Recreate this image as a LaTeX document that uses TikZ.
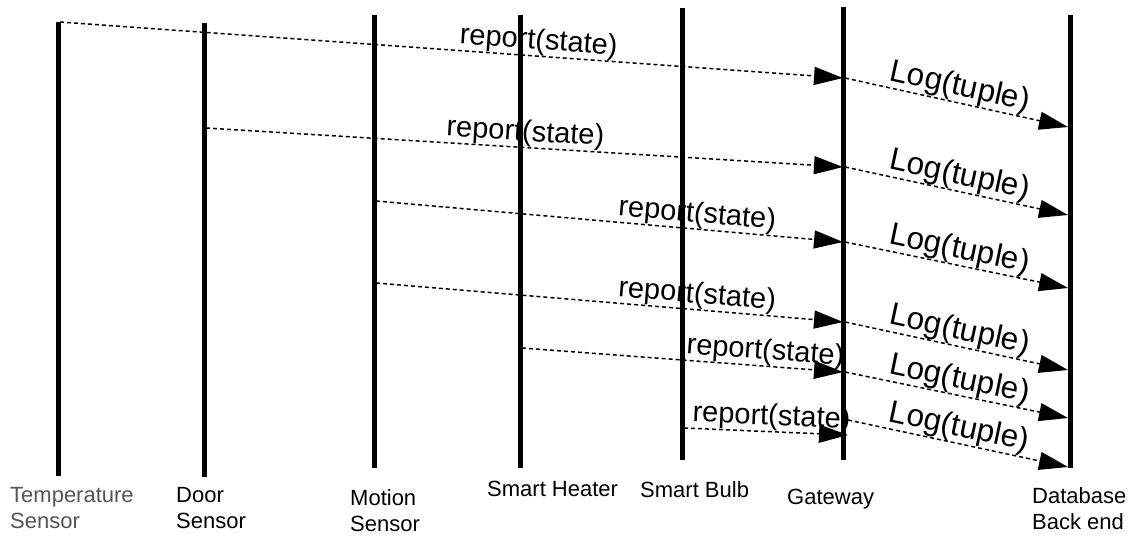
\documentclass[tikz,border=0pt]{standalone}
\usepackage{fontspec}
\setmainfont{Liberation Sans}
\usetikzlibrary{arrows.meta}
\definecolor{labelgray}{RGB}{85,85,85}
\begin{document}
\begin{tikzpicture}[x=1pt,y=-1pt,
  lifeline/.style={line width=5pt},
  msg/.style={line width=1.5pt, dash pattern=on 4pt off 3pt, -{Triangle[length=29pt,width=18pt]}},
  rlabel/.style={font=\fontsize{29}{35}\selectfont, sloped, above, inner sep=0pt},
  llabel/.style={font=\fontsize{31.5}{37}\selectfont, sloped, above, inner sep=0pt},
  actor/.style={font=\fontsize{22}{26}\selectfont, align=left, anchor=north west, inner sep=0pt}
]
\useasboundingbox (0,0) rectangle (1140,537);
% lifelines
\coordinate (tempT) at (58,22);   \coordinate (tempB) at (58,476);
\coordinate (doorT) at (204,23);  \coordinate (doorB) at (204,477);
\coordinate (motT) at (374,15);   \coordinate (motB) at (374,468);
\coordinate (heatT) at (520,15);  \coordinate (heatB) at (520,468);
\coordinate (bulbT) at (682,8);   \coordinate (bulbB) at (682,460);
\coordinate (gwT) at (843,7);     \coordinate (gwB) at (843,460);
\coordinate (dbT) at (1070,15);   \coordinate (dbB) at (1070,468);
\foreach \l in {temp,door,mot,heat,bulb,gw,db}
  \draw[lifeline] (\l T) -- (\l B);
% message end points
\coordinate (m1a) at (60,22);   \coordinate (m1b) at (843,78);
\coordinate (m2a) at (206,128); \coordinate (m2b) at (843,167);
\coordinate (m3a) at (376,201); \coordinate (m3b) at (843,242);
\coordinate (m4a) at (376,283); \coordinate (m4b) at (843,322);
\coordinate (m5a) at (522,348); \coordinate (m5b) at (843,372);
\coordinate (m6a) at (684,428); \coordinate (m6b) at (848,435);
\coordinate (l1a) at (845,78);  \coordinate (l1b) at (1068,127);
\coordinate (l2a) at (845,167); \coordinate (l2b) at (1068,215);
\coordinate (l3a) at (845,242); \coordinate (l3b) at (1068,288);
\coordinate (l4a) at (845,322); \coordinate (l4b) at (1068,370);
\coordinate (l5a) at (845,372); \coordinate (l5b) at (1068,418);
\coordinate (l6a) at (848,420); \coordinate (l6b) at (1068,467);
% report messages
\draw[msg] (m1a) -- node[rlabel,pos=0.61] (r1) {report(state)} (m1b);
\draw[msg] (m2a) -- node[rlabel,pos=0.50] (r2) {report(state)} (m2b);
\draw[msg] (m3a) -- node[rlabel,pos=0.685] (r3) {report(state)} (m3b);
\draw[msg] (m4a) -- node[rlabel,pos=0.685] (r4) {report(state)} (m4b);
\draw[msg] (m5a) -- node[rlabel,pos=0.755] (r5) {report(state)} (m5b);
\draw[msg] (m6a) -- node[rlabel,pos=0.53] (r6) {report(state)} (m6b);
% log messages
\draw[msg] (l1a) -- node[llabel,pos=0.5] (g1) {Log(tuple)} (l1b);
\draw[msg] (l2a) -- node[llabel,pos=0.5] (g2) {Log(tuple)} (l2b);
\draw[msg] (l3a) -- node[llabel,pos=0.5] (g3) {Log(tuple)} (l3b);
\draw[msg] (l4a) -- node[llabel,pos=0.5] (g4) {Log(tuple)} (l4b);
\draw[msg] (l5a) -- node[llabel,pos=0.5] (g5) {Log(tuple)} (l5b);
\draw[msg] (l6a) -- node[llabel,pos=0.49] (g6) {Log(tuple)} (l6b);
% actor labels
\node[actor,text=labelgray] (ntemp) at (10,487) {Temperature\\Sensor};
\node[actor] (ndoor) at (176,487) {Door\\Sensor};
\node[actor] (nmot) at (350,489) {Motion\\Sensor};
\node[actor] (nheat) at (487,481) {Smart Heater};
\node[actor] (nbulb) at (640,481) {Smart Bulb};
\node[actor] (ngw) at (787,489) {Gateway};
\node[actor] (ndb) at (1032,487) {Database\\Back end};
\end{tikzpicture}
\end{document}
